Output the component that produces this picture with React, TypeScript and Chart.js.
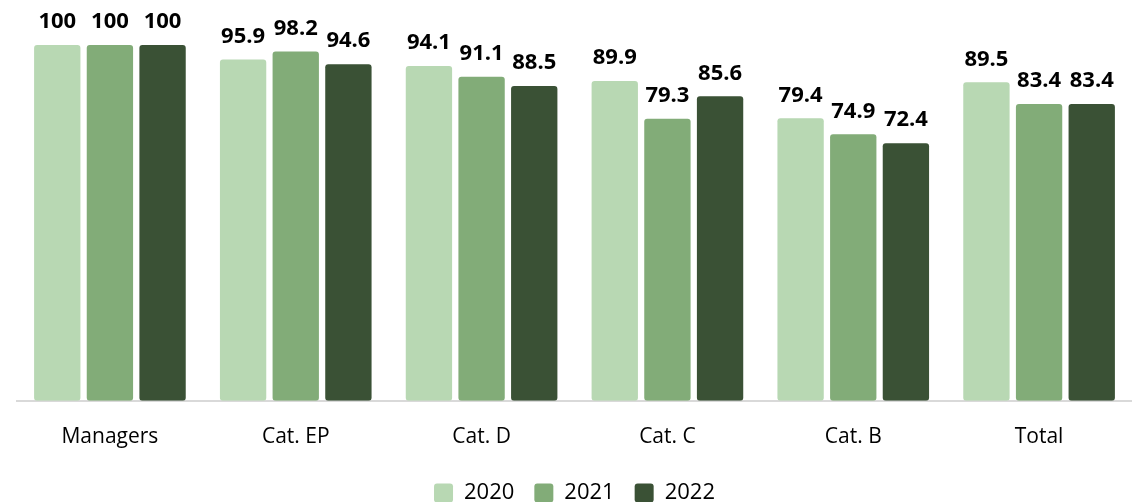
import React, { useEffect, useRef } from "react";
import { Chart, registerables } from "chart.js";

Chart.register(...registerables);

const categories = ["Managers", "Cat. EP", "Cat. D", "Cat. C", "Cat. B", "Total"];
const seriesNames = ["2020", "2021", "2022"];
const values2020 = [100, 95.9, 94.1, 89.9, 79.4, 89.5];
const values2021 = [100, 98.2, 91.1, 79.3, 74.9, 83.4];
const values2022 = [100, 94.6, 88.5, 85.6, 72.4, 83.4];
const colors = ["#B8D8B3", "#82AC78", "#3A5135"];

const FONT = "'Open Sans', 'DejaVu Sans', sans-serif";

const labelPlugin = {
  id: "valueLabels",
  afterDatasetsDraw(chart: any) {
    const ctx = chart.ctx;
    ctx.save();
    ctx.font = `bold 22px ${FONT}`;
    ctx.fillStyle = "#000000";
    ctx.textAlign = "center";
    ctx.textBaseline = "middle";
    chart.data.datasets.forEach((ds: any, i: number) => {
      const meta = chart.getDatasetMeta(i);
      meta.data.forEach((bar: any, j: number) => {
        const v = ds.data[j];
        const txt = Number.isInteger(v) ? String(v) : v.toFixed(1);
        ctx.fillText(txt, bar.x, bar.y - 23);
      });
    });
    ctx.restore();
  },
};

const LEGEND_SHIFT = 4;
const legendTweak = {
  id: "legendTweak",
  beforeInit(chart: any) {
    const lg = chart.legend;
    if (!lg || lg.__tweaked) return;
    lg.__tweaked = true;
    const origFit = lg.fit.bind(lg);
    lg.fit = function () {
      origFit();
      this.height -= LEGEND_SHIFT;
    };
    const origDraw = lg.draw.bind(lg);
    lg.draw = function () {
      const ctx = chart.ctx;
      ctx.save();
      ctx.translate(0, -LEGEND_SHIFT);
      origDraw();
      ctx.restore();
    };
  },
};

export default function App() {
  const ref = useRef<HTMLCanvasElement | null>(null);
  useEffect(() => {
    document.documentElement.style.overflow = "hidden";
    if (!ref.current) return;
    const data = [values2020, values2021, values2022];
    const chart = new Chart(ref.current, {
      type: "bar",
      data: {
        labels: categories,
        datasets: seriesNames.map((name, i) => ({
          label: name,
          data: data[i],
          backgroundColor: colors[i],
          borderRadius: 3,
          borderSkipped: false,
          categoryPercentage: 0.85,
          barPercentage: 0.88,
        })),
      },
      options: {
        animation: false,
        responsive: true,
        maintainAspectRatio: false,
        layout: { padding: { top: 37, left: 9, right: 0, bottom: 0 } },
        scales: {
          y: { display: false, min: 0, max: 100 },
          x: {
            grid: { display: false },
            border: { color: "#D9D9D9", width: 2 },
            ticks: {
              color: "#000000",
              font: { family: FONT, size: 21 },
              padding: 16,
            },
          },
        },
        plugins: {
          tooltip: { enabled: false },
          legend: {
            position: "bottom",
            labels: {
              color: "#000000",
              font: { family: FONT, size: 22 },
              boxWidth: 19,
              boxHeight: 19,
              useBorderRadius: true,
              borderRadius: 3,
              padding: 20,
            },
          },
        },
      },
      plugins: [labelPlugin, legendTweak],
    });
    return () => chart.destroy();
  }, []);
  return (
    <div style={{ width: 1124, height: 494, overflow: "hidden" }}>
      <div style={{ width: 1124, height: 506, position: "relative" }}>
        <canvas ref={ref} />
      </div>
    </div>
  );
}
